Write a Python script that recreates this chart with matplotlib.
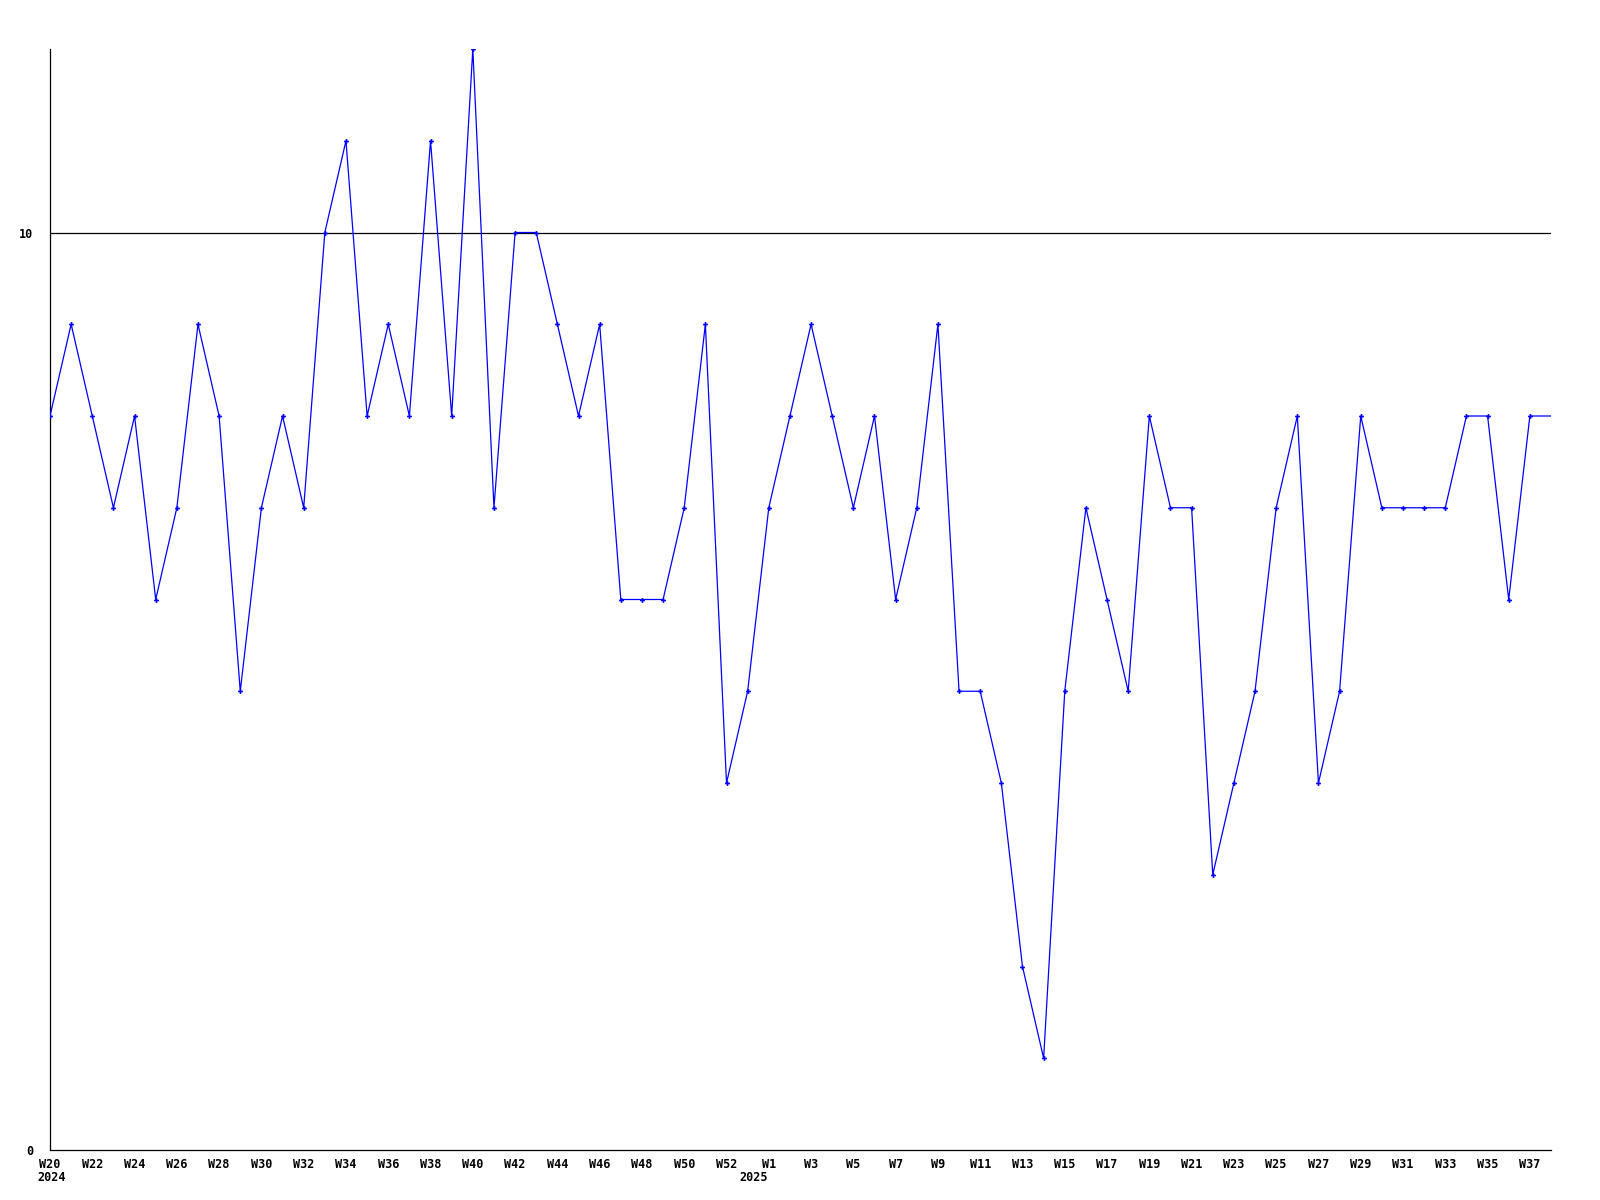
import matplotlib
matplotlib.use("Agg")
import matplotlib.pyplot as plt

# Weekly series: 2024-W20 .. 2024-W53, 2025-W1 .. 2025-W37
weeks_2024 = list(range(20, 54))
weeks_2025 = list(range(1, 38))
week_labels = [f"W{w}" for w in weeks_2024] + [f"W{w}" for w in weeks_2025]
values = [8, 9, 8, 7, 8, 6, 7, 9, 8, 5,
          7, 8, 7, 10, 11, 8, 9, 8, 11, 8,
          12, 7, 10, 10, 9, 8, 9, 6, 6, 6,
          7, 9, 4, 5, 7, 8, 9, 8, 7, 8,
          6, 7, 9, 5, 5, 4, 2, 1, 5, 7,
          6, 5, 8, 7, 7, 3, 4, 5, 7, 8,
          4, 5, 8, 7, 7, 7, 7, 8, 8, 6, 8]
year_labels = ["2024", "2025"]
y_ticks = [0, 10]

fig = plt.figure(figsize=(16, 12), dpi=100)
ax = fig.add_axes([50/1600, 1 - 1150/1200, (1551-50)/1600, (1150-49)/1200])

x = list(range(len(values)))
# last value carried to the right edge (current week), no marker
ax.plot(x + [len(values)], values + [values[-1]], color="#0000ff", lw=0.9, zorder=3)
ax.plot(x, values, linestyle="none", marker="P", markersize=3.5, color="#0000ff",
        markeredgewidth=0, zorder=4)

ax.axhline(10, color="black", lw=0.9, zorder=2)

ax.set_xlim(0, len(values))
ax.set_ylim(0, 12)

tick_pos = x[::2]
tick_lab = week_labels[::2]

font = dict(family="DejaVu Sans Mono", weight="bold", size=8.5)
ax.set_xticks(tick_pos)
ax.set_xticklabels(tick_lab, **font)
ax.set_yticks(y_ticks)
ax.set_yticklabels([str(v) for v in y_ticks], **font)
ax.tick_params(axis="x", length=0, pad=6)
ax.tick_params(axis="y", length=0, pad=12)

# year labels
ax.text(0.1, -0.025, year_labels[0], transform=ax.get_xaxis_transform(),
        ha="center", va="center", **font)
jan1_pos = len(weeks_2024) - 1 + 2/7
ax.text(jan1_pos, -0.025, year_labels[1], transform=ax.get_xaxis_transform(),
        ha="center", va="center", **font)

for s in ["top", "right"]:
    ax.spines[s].set_visible(False)
for s in ["left", "bottom"]:
    ax.spines[s].set_color("black")
    ax.spines[s].set_linewidth(0.9)

fig.savefig("out.png", dpi=100, facecolor="white")
